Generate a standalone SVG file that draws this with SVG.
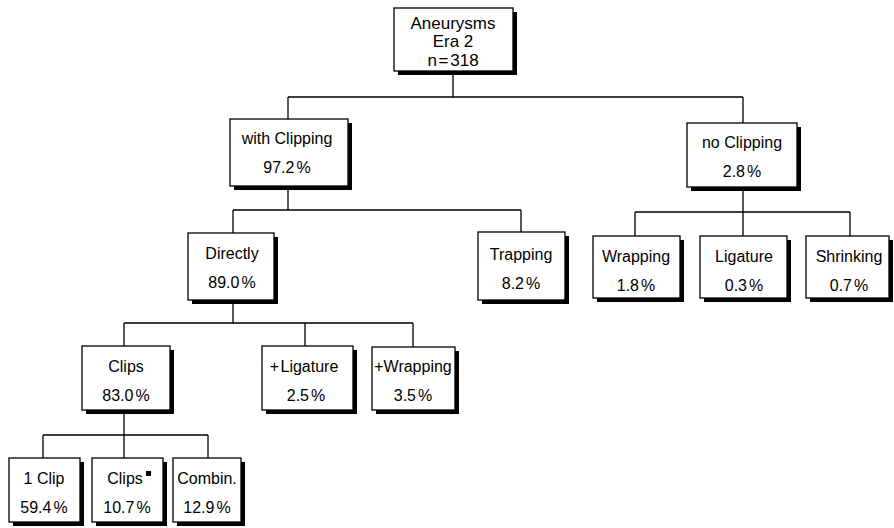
<svg xmlns="http://www.w3.org/2000/svg" width="894" height="528" viewBox="0 0 894 528">
<style>
.box{fill:#fff;stroke:#000;stroke-width:1.3}
.sh{fill:#000}
.t{font-family:"Liberation Sans",Arial,sans-serif;font-size:16px;fill:#000;text-anchor:middle}
.tr{font-family:"Liberation Sans",Arial,sans-serif;font-size:17px;fill:#000;text-anchor:middle}
.c{fill:none;stroke:#000;stroke-width:1.3}
</style>
<rect width="894" height="528" fill="#fff"/>
<g id="connectors">
<path class="c" d="M453 71V97M288 97H743M288 97V119M743 97V123"/>
<path class="c" d="M288 190V210M233 210H521M233 210V233M521 210V232"/>
<path class="c" d="M743 191V212M635 212H850M635 212V236M743 212V236M850 212V236"/>
<path class="c" d="M233 304V323M124 323H413M124 323V346M305 323V346M413 323V347"/>
<path class="c" d="M124 414V435M43 435H208M43 435V458M124 435V458M208 435V458"/>
</g>
<g id="root"><rect class="sh" x="398" y="12" width="119" height="63"/><rect class="box" x="394" y="8" width="119" height="63"/>
<text class="tr" x="453" y="29">Aneurysms</text><text class="tr" x="453" y="47">Era 2</text><text class="tr" x="453" y="65.5" word-spacing="-3">n = 318</text></g>
<g id="with-clipping"><rect class="sh" x="234" y="123" width="118" height="67"/><rect class="box" x="230" y="119" width="118" height="67"/>
<text class="t" x="287" y="144">with Clipping</text><text class="t" x="287" y="173">97.2<tspan dx="2">%</tspan></text></g>
<g id="no-clipping"><rect class="sh" x="691" y="127" width="110" height="64"/><rect class="box" x="687" y="123" width="110" height="64"/>
<text class="t" x="742" y="148">no Clipping</text><text class="t" x="742" y="177">2.8<tspan dx="2">%</tspan></text></g>
<g id="directly"><rect class="sh" x="192" y="237" width="86" height="67"/><rect class="box" x="188" y="233" width="86" height="67"/>
<text class="t" x="232" y="259">Directly</text><text class="t" x="232" y="288">89.0<tspan dx="2">%</tspan></text></g>
<g id="trapping"><rect class="sh" x="482" y="236" width="87" height="68"/><rect class="box" x="478" y="232" width="87" height="68"/>
<text class="t" x="521" y="260">Trapping</text><text class="t" x="521" y="289">8.2<tspan dx="2">%</tspan></text></g>
<g id="wrapping"><rect class="sh" x="597" y="240" width="87" height="62"/><rect class="box" x="593" y="236" width="87" height="62"/>
<text class="t" x="636" y="262">Wrapping</text><text class="t" x="636" y="291">1.8<tspan dx="2">%</tspan></text></g>
<g id="ligature"><rect class="sh" x="704" y="240" width="87" height="62"/><rect class="box" x="700" y="236" width="87" height="62"/>
<text class="t" x="744" y="262">Ligature</text><text class="t" x="744" y="291">0.3<tspan dx="2">%</tspan></text></g>
<g id="shrinking"><rect class="sh" x="810" y="240" width="83" height="62"/><rect class="box" x="806" y="236" width="83" height="62"/>
<text class="t" x="849" y="262">Shrinking</text><text class="t" x="849" y="291">0.7<tspan dx="2">%</tspan></text></g>
<g id="clips"><rect class="sh" x="86" y="350" width="88" height="64"/><rect class="box" x="82" y="346" width="88" height="64"/>
<text class="t" x="126" y="372">Clips</text><text class="t" x="126" y="401">83.0<tspan dx="2">%</tspan></text></g>
<g id="plus-ligature"><rect class="sh" x="266" y="350" width="91" height="64"/><rect class="box" x="262" y="346" width="91" height="64"/>
<text class="t" x="304" y="372" word-spacing="-3">+ Ligature</text><text class="t" x="306" y="401">2.5<tspan dx="2">%</tspan></text></g>
<g id="plus-wrapping"><rect class="sh" x="376" y="351" width="83" height="63"/><rect class="box" x="372" y="347" width="83" height="63"/>
<text class="t" x="413" y="372">+Wrapping</text><text class="t" x="413" y="401">3.5<tspan dx="2">%</tspan></text></g>
<g id="one-clip"><rect class="sh" x="13" y="462" width="71" height="64"/><rect class="box" x="9" y="458" width="71" height="64"/>
<text class="t" x="44" y="484">1 Clip</text><text class="t" x="44" y="513">59.4<tspan dx="2">%</tspan></text></g>
<g id="clips-star"><rect class="sh" x="96" y="462" width="71" height="64"/><rect class="box" x="92" y="458" width="71" height="64"/>
<text class="t" x="125" y="484">Clips</text><rect x="146" y="471" width="5" height="5" fill="#000"/><text class="t" x="127" y="513">10.7<tspan dx="2">%</tspan></text></g>
<g id="combin"><rect class="sh" x="177" y="462" width="68" height="64"/><rect class="box" x="173" y="458" width="68" height="64"/>
<text class="t" x="207" y="484">Combin.</text><text class="t" x="207" y="513">12.9<tspan dx="2">%</tspan></text></g>
</svg>
